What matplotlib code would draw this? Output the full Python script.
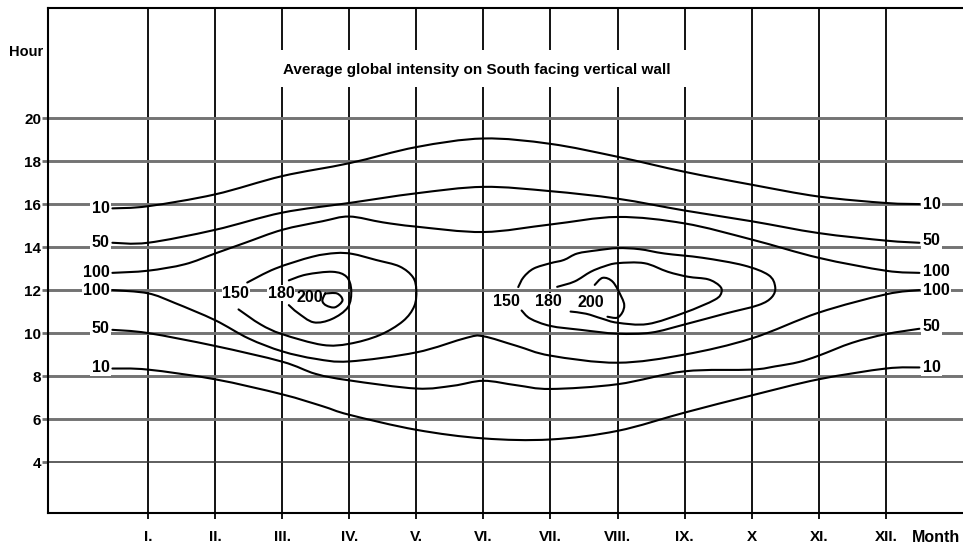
import matplotlib
matplotlib.use("Agg")
import matplotlib.pyplot as plt
from matplotlib.path import Path
from matplotlib.patches import PathPatch, Rectangle

# --- data: month (1 = I.) and hour of day ---
MONTHS = list(range(1, 13))
MONTH_LABELS = ["I.", "II.", "III.", "IV.", "V.", "VI.", "VII.", "VIII.",
                "IX.", "X", "XI.", "XII."]
HOURS = [4, 6, 8, 10, 12, 14, 16, 18, 20]

# afternoon / evening side of the day
c10_pm_m = [0.47, 1, 2, 3, 4, 5, 6, 7, 8, 9, 10, 11, 12, 12.5]
c10_pm_h = [15.8, 15.9, 16.45, 17.3, 17.9, 18.65, 19.05, 18.8, 18.2, 17.5, 16.9, 16.35, 16.05, 16.0]

c50_pm_m = [0.47, 1, 2, 3, 4, 5, 6, 7, 8, 9, 10, 11, 12, 12.5]
c50_pm_h = [14.2, 14.2, 14.8, 15.6, 16.05, 16.5, 16.8, 16.6, 16.25, 15.7, 15.2, 14.65, 14.3, 14.2]

c100_pm_m = [0.47, 1, 1.55, 2, 2.45, 3, 3.6, 4, 4.5, 5, 6, 7, 8, 9, 10, 11, 12, 12.5]
c100_pm_h = [12.8, 12.9, 13.2, 13.7, 14.2, 14.8, 15.2, 15.42, 15.15, 14.95, 14.7, 15.05, 15.4, 15.1, 14.35, 13.5, 12.9, 12.8]

# morning side of the day
c100_am_m = [0.47, 1, 1.4, 2, 2.5, 3, 3.5, 4, 5, 5.75, 6, 6.5, 7, 8, 9, 10, 11, 12, 12.5]
c100_am_h = [12.0, 11.85, 11.4, 10.6, 9.75, 9.15, 8.8, 8.68, 9.1, 9.78, 9.85, 9.4, 8.95, 8.62, 9.0, 9.75, 10.95, 11.8, 12.0]

c50_am_m = [0.47, 1, 2, 3, 3.5, 4, 5, 5.55, 6, 6.5, 7, 8, 9, 10, 10.35, 10.7, 11, 11.5, 12, 12.5]
c50_am_h = [10.15, 10.0, 9.4, 8.67, 8.1, 7.8, 7.42, 7.55, 7.78, 7.57, 7.4, 7.62, 8.22, 8.3, 8.45, 8.65, 8.95, 9.55, 9.95, 10.2]

c10_am_m = [0.47, 1, 2, 3, 3.6, 4, 5, 6, 7, 8, 9, 10, 11, 12, 12.5]
c10_am_h = [8.35, 8.3, 7.85, 7.15, 6.6, 6.2, 5.5, 5.1, 5.05, 5.45, 6.3, 7.1, 7.85, 8.35, 8.4]

# closed areas around April
c150_iv_m = [2.48, 2.9, 3.45, 3.8, 4.05, 4.4, 4.75, 4.95, 5.0, 4.97, 4.8, 4.45, 4.0, 3.6, 3.0, 2.68, 2.35]
c150_iv_h = [12.35, 13.0, 13.55, 13.72, 13.68, 13.4, 13.1, 12.6, 12.0, 11.25, 10.55, 9.9, 9.5, 9.45, 9.95, 10.4, 11.1]

c180_iv_m = [3.1, 3.36, 3.75, 3.96, 4.03, 3.98, 3.74, 3.47, 3.23, 3.1]
c180_iv_h = [12.45, 12.72, 12.85, 12.62, 12.0, 11.2, 10.65, 10.5, 10.95, 11.3]

c200_iv_m = [3.64, 3.82, 3.9, 3.79, 3.66, 3.6, 3.64]
c200_iv_h = [11.84, 11.84, 11.52, 11.2, 11.28, 11.5, 11.84]

# closed areas around August
c150_viii_m = [6.52, 6.6, 6.75, 7.0, 7.2, 7.4, 7.7, 8.0, 8.33, 8.7, 9.27, 9.88, 10.25, 10.35,
               10.3, 10.1, 9.6, 9.0, 8.5, 8.0, 7.45, 7.0, 6.7, 6.57]
c150_viii_h = [12.14, 12.6, 13.0, 13.25, 13.4, 13.7, 13.85, 13.95, 13.9, 13.7, 13.5, 13.15, 12.7, 12.15,
               11.67, 11.3, 10.9, 10.4, 10.02, 9.97, 10.15, 10.33, 10.67, 11.05]

c180_viii_m = [7.1, 7.36, 7.6, 7.8, 8.0, 8.4, 8.75, 9.05, 9.35, 9.52, 9.55, 9.45, 9.0, 8.45, 8.0,
               7.77, 7.53, 7.3]
c180_viii_h = [12.15, 12.4, 12.85, 13.1, 13.25, 13.25, 12.85, 12.62, 12.5, 12.2, 11.9, 11.55, 10.95,
               10.42, 10.48, 10.67, 10.9, 11.0]

c200_viii_m = [7.66, 7.78, 7.93, 8.06, 8.1, 8.07, 7.99, 7.85]
c200_viii_h = [12.24, 12.57, 12.38, 11.67, 11.29, 10.95, 10.71, 10.76]

# contour value labels
EDGE_LABELS = ["10", "50", "100", "100", "50", "10"]
LEFT_LABEL_H = [15.78, 14.2, 12.8, 12.0, 10.2, 8.4]
RIGHT_LABEL_H = [16.0, 14.3, 12.85, 12.0, 10.3, 8.4]
INNER_LABELS = ["150", "180", "200", "150", "180", "200"]
INNER_LABEL_M = [2.31, 2.99, 3.41, 6.34, 6.97, 7.6]
INNER_LABEL_H = [11.86, 11.86, 11.67, 11.48, 11.48, 11.43]

TITLE = "Average global intensity on South facing vertical wall"

plt.rcParams['font.family'] = ['Liberation Sans', 'DejaVu Sans']


def draw_curve(ax, xs, ys):
    # smooth curve through the read points (Catmull-Rom as cubic Bezier)
    pts = list(zip(xs, ys))
    n = len(pts)
    verts = [pts[0]]
    codes = [Path.MOVETO]
    for i in range(n - 1):
        p0 = pts[max(i - 1, 0)]
        p1 = pts[i]
        p2 = pts[i + 1]
        p3 = pts[min(i + 2, n - 1)]
        c1 = (p1[0] + (p2[0] - p0[0]) / 6, p1[1] + (p2[1] - p0[1]) / 6)
        c2 = (p2[0] - (p3[0] - p1[0]) / 6, p2[1] - (p3[1] - p1[1]) / 6)
        verts += [c1, c2, p2]
        codes += [Path.CURVE4] * 3
    ax.add_patch(PathPatch(Path(verts, codes), fill=False, lw=1.5, ec='black',
                           capstyle='round', joinstyle='round', zorder=4))


fig = plt.figure(figsize=(9.63, 5.48), dpi=100)
ax = fig.add_axes([48 / 963, 35 / 548, 915 / 963, 505 / 548])
ax.set_xlim(-0.49, 13.15)
ax.set_ylim(1.63, 25.12)

for s in ['left', 'bottom', 'top']:
    ax.spines[s].set_linewidth(1.5)
ax.spines['right'].set_visible(False)

# grid
for m in MONTHS:
    ax.axvline(m, color='black', lw=1.3, zorder=1)
for h in HOURS:
    if h == 4:
        ax.axhline(h, color='#333333', lw=1.1, zorder=2)
    else:
        ax.axhline(h, color='#737373', lw=2.1, zorder=2)

# gap in the vertical lines behind the title
ax.add_patch(Rectangle((2.55, 21.45), 6.9, 1.7, fc='white', ec='none', zorder=3))
ax.text(5.9, 22.23, TITLE, ha='center', va='center', fontsize=11,
        fontweight='bold', zorder=6)

ax.set_yticks(HOURS)
ax.set_yticklabels([str(h) for h in HOURS], fontweight='bold')
ax.tick_params(axis='y', length=4, width=2, color='#707070', pad=1, labelsize=11)
ax.set_xticks(MONTHS)
ax.set_xticklabels(MONTH_LABELS, fontweight='bold')
ax.tick_params(axis='x', length=4, width=1.3, color='black', pad=8, labelsize=11)

for xs, ys in [(c10_pm_m, c10_pm_h), (c50_pm_m, c50_pm_h), (c100_pm_m, c100_pm_h),
               (c100_am_m, c100_am_h), (c50_am_m, c50_am_h), (c10_am_m, c10_am_h),
               (c150_iv_m, c150_iv_h), (c180_iv_m, c180_iv_h), (c200_iv_m, c200_iv_h),
               (c150_viii_m, c150_viii_h), (c180_viii_m, c180_viii_h),
               (c200_viii_m, c200_viii_h)]:
    draw_curve(ax, xs, ys)

box = dict(fc='white', ec='none', pad=1.0)
for txt, h in zip(EDGE_LABELS, LEFT_LABEL_H):
    ax.text(0.43, h, txt, ha='right', va='center', fontsize=11.5, fontweight='bold',
            bbox=box, zorder=6)
for txt, h in zip(EDGE_LABELS, RIGHT_LABEL_H):
    ax.text(12.55, h, txt, ha='left', va='center', fontsize=11.5, fontweight='bold',
            bbox=box, zorder=6)
for txt, m, h in zip(INNER_LABELS, INNER_LABEL_M, INNER_LABEL_H):
    # the "200" labels sit right against their small loops, so no white box
    lbl_box = None if txt == "200" else dict(fc='white', ec='none', pad=0.5)
    ax.text(m, h, txt, ha='center', va='center', fontsize=11.5, fontweight='bold',
            bbox=lbl_box, zorder=6)

fig.text(26 / 963, 1 - 52 / 548, "Hour", ha='center', va='center', fontsize=10.5,
         fontweight='bold')
fig.text(936 / 963, 1 - 537 / 548, "Month", ha='center', va='center', fontsize=11.5,
         fontweight='bold')

fig.savefig("out.png", dpi=100)
